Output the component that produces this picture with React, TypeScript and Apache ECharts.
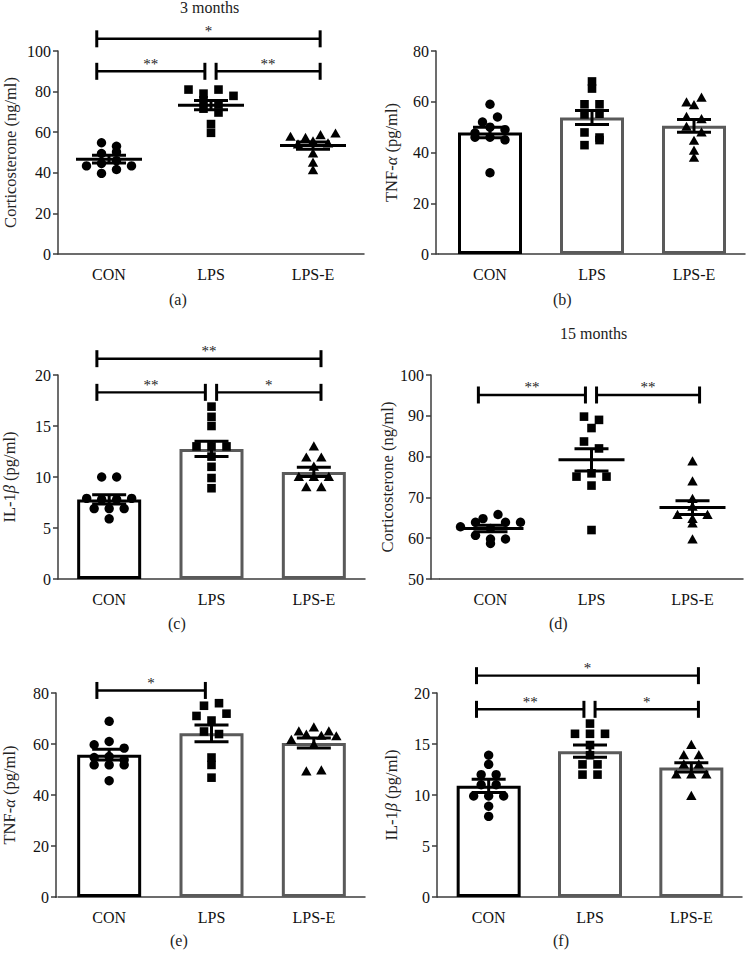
import React, { useEffect, useRef } from 'react';
import * as echarts from 'echarts';

const CATEGORIES = ['CON', 'LPS', 'LPS-E'];

// (a) 3 months, corticosterone (ng/ml)
const A_CON = [49.5, 43.4, 54.8, 50.3, 44.6, 39.7, 53.1, 46, 41.6, 43.4];
const A_LPS = [81, 75.7, 71.6, 79, 69.7, 64, 59.7, 81, 73.8, 77.9];
const A_LPSE = [57.7, 54, 57.2, 49.5, 45, 41.3, 55.5, 58.5, 59.3, 54.4];
const A_MEAN = [46.7, 73.3, 53.4];
const A_SEM = [1.9, 2.3, 1.8];
const A_BRACKETS: [number, number, number, string][] = [[0, 2, 106, '*'], [0, 1, 90, '**'], [1, 2, 90, '**']];

// (b) 3 months, TNF-alpha (pg/ml)
const B_CON = [47.7, 46, 50, 59, 32, 52, 46, 54, 49, 45];
const B_LPS = [68, 55, 47.9, 42.9, 59, 65.2, 55.3, 45.9, 59, 44.9];
const B_LPSE = [58.6, 54, 37.9, 59.7, 50.1, 44.6, 40.7, 61.6, 53.1, 47.9];
const B_MEAN = [47.9, 53.8, 50.5];
const B_SEM = [2.1, 2.8, 2.5];
const B_BRACKETS: [number, number, number, string][] = [];

// (c) 3 months, IL-1beta (pg/ml)
const C_CON = [7.9, 6.9, 10, 7.8, 6.9, 5.9, 10, 7.8, 6.9, 7.9];
const C_LPS = [13, 16.9, 15.9, 15, 13, 12, 11, 9.9, 8.9, 13];
const C_LPSE = [10, 11.9, 9, 13, 11, 10, 11.9, 9, 10];
const C_MEAN = [7.8, 12.75, 10.5];
const C_SEM = [0.45, 0.75, 0.45];
const C_BRACKETS: [number, number, number, string][] = [[0, 2, 21.6, '**'], [0, 1, 18.3, '**'], [1, 2, 18.3, '*']];

// (d) 15 months, corticosterone (ng/ml)
const D_CON = [64.8, 62.8, 63.9, 60.7, 58.7, 59.8, 62.4, 63.9, 59.8, 65.8, 63.9];
const D_LPS = [89.8, 75.1, 89, 87, 83.7, 82, 75.9, 72.9, 62, 75.1];
const D_LPSE = [65.7, 78.8, 73.9, 69.6, 59.7, 67.7, 64.7, 65.7, 63.6];
const D_MEAN = [62.4, 79.2, 67.5];
const D_SEM = [0.8, 2.75, 1.7];
const D_BRACKETS: [number, number, number, string][] = [[0, 1, 95.1, '**'], [1, 2, 95.1, '**']];

// (e) 15 months, TNF-alpha (pg/ml)
const E_CON = [59.7, 54.7, 51.8, 61, 68.9, 55.1, 51.8, 45.6, 58.4, 51.8, 53.8];
const E_LPS = [75, 71, 64.9, 69.2, 51.8, 46.8, 63.9, 76, 71.9, 54.7];
const E_LPSE = [64.9, 61.6, 63.6, 59.7, 49.2, 49.6, 63.2, 63, 66.5, 64.9];
const E_MEAN = [55.8, 64.2, 60.4];
const E_SEM = [2.1, 3.3, 2.0];
const E_BRACKETS: [number, number, number, string][] = [[0, 1, 81, '*']];

// (f) 15 months, IL-1beta (pg/ml)
const F_CON = [12, 11, 9.9, 13.9, 13, 9.9, 8.9, 7.9, 12, 11, 9.9];
const F_LPS = [16, 13, 12, 17, 16, 14.9, 13.9, 13, 12, 16];
const F_LPSE = [12, 13.9, 13, 14.9, 12, 9.9, 13.9, 13, 12];
const F_MEAN = [10.9, 14.3, 12.7];
const F_SEM = [0.65, 0.6, 0.45];
const F_BRACKETS: [number, number, number, string][] = [[0, 2, 21.7, '*'], [0, 1, 18.4, '**'], [1, 2, 18.4, '*']];

const Y_CORT = '{n|Corticosterone (ng/ml)}';
const Y_TNF = '{n|TNF-}{g|α}{n| (pg/ml)}';
const Y_IL = '{n|IL-1}{g|β}{n| (pg/ml)}';

const SERIF = '"Liberation Serif", "DejaVu Serif", serif';
const AX = '#3c3c3c';

type Panel = {
  groups: number[][];
  mean: number[];
  sem: number[];
  brackets: [number, number, number, string][];
  bars: boolean;
  yMin: number; yMax: number; yInt: number;
  yName: string;
  axisX: number; left: number; width: number; top: number; height: number; nameGap: number;
  label: string; labelX: number; labelY: number;
};

const PANELS: Panel[] = [
  { groups: [A_CON, A_LPS, A_LPSE], mean: A_MEAN, sem: A_SEM, brackets: A_BRACKETS, bars: false,
    yMin: 0, yMax: 100, yInt: 20, yName: Y_CORT,
    axisX: 58, left: 58, width: 306, top: 51, height: 203, nameGap: 39, label: '(a)', labelX: 178, labelY: 300 },
  { groups: [B_CON, B_LPS, B_LPSE], mean: B_MEAN, sem: B_SEM, brackets: B_BRACKETS, bars: true,
    yMin: 0, yMax: 80, yInt: 20, yName: Y_TNF,
    axisX: 436, left: 439, width: 306, top: 51, height: 203, nameGap: 36, label: '(b)', labelX: 562, labelY: 300 },
  { groups: [C_CON, C_LPS, C_LPSE], mean: C_MEAN, sem: C_SEM, brackets: C_BRACKETS, bars: true,
    yMin: 0, yMax: 20, yInt: 5, yName: Y_IL,
    axisX: 57, left: 57, width: 308, top: 375, height: 204, nameGap: 40, label: '(c)', labelX: 177, labelY: 624 },
  { groups: [D_CON, D_LPS, D_LPSE], mean: D_MEAN, sem: D_SEM, brackets: D_BRACKETS, bars: false,
    yMin: 50, yMax: 100, yInt: 10, yName: Y_CORT,
    axisX: 431, left: 440, width: 303, top: 375, height: 204, nameGap: 31, label: '(d)', labelX: 558, labelY: 624 },
  { groups: [E_CON, E_LPS, E_LPSE], mean: E_MEAN, sem: E_SEM, brackets: E_BRACKETS, bars: true,
    yMin: 0, yMax: 80, yInt: 20, yName: Y_TNF,
    axisX: 55, left: 57, width: 308, top: 693, height: 204, nameGap: 38, label: '(e)', labelX: 179, labelY: 941 },
  { groups: [F_CON, F_LPS, F_LPSE], mean: F_MEAN, sem: F_SEM, brackets: F_BRACKETS, bars: true,
    yMin: 0, yMax: 20, yInt: 5, yName: Y_IL,
    axisX: 437, left: 438, width: 304, top: 693, height: 204, nameGap: 37, label: '(f)', labelX: 562, labelY: 941 },
];

// GraphPad-like column scatter: points with nearly equal pixel height share a row and are spread sideways
function swarm(ys: number[], rowH: number, colW: number, maxW: number): number[] {
  const idx = ys.map((_, i) => i).sort((a, b) => ys[a] - ys[b]);
  const off = new Array(ys.length).fill(0);
  let i = 0;
  while (i < idx.length) {
    const row = [idx[i]];
    let j = i + 1;
    while (j < idx.length && ys[idx[j]] - ys[idx[i]] < rowH) { row.push(idx[j]); j++; }
    const n = row.length;
    const s = n > 1 ? Math.min(colW, maxW / (n - 1)) : 0;
    row.sort((a, b) => a - b).forEach((p, k) => { off[p] = (k - (n - 1) / 2) * s; });
    i = j;
  }
  return off;
}

function marker(shape: number, x: number, y: number) {
  const style = { fill: '#000', stroke: 'none' };
  if (shape === 0) return { type: 'circle', shape: { cx: x, cy: y, r: 4.7 }, style };
  if (shape === 1) return { type: 'rect', shape: { x: x - 4.3, y: y - 4.3, width: 8.6, height: 8.6 }, style };
  return { type: 'polygon', shape: { points: [[x, y - 5.2], [x + 5.2, y + 4], [x - 5.2, y + 4]] }, style };
}

function buildOption() {
  const grid: any[] = [];
  const xAxis: any[] = [];
  const yAxis: any[] = [];
  const series: any[] = [];
  const graphic: any[] = [];

  PANELS.forEach((p, i) => {
    grid.push({ left: p.left, top: p.top, width: p.width, height: p.height });
    xAxis.push({
      gridIndex: i, type: 'category', data: CATEGORIES, boundaryGap: true,
      axisLine: { onZero: false, lineStyle: { color: AX, width: 1.5 } },
      axisTick: { alignWithLabel: true, length: 5, interval: 0, lineStyle: { color: AX, width: 1.5 } },
      axisLabel: { interval: 0, margin: 12, fontSize: 16, fontFamily: SERIF, color: '#111' },
    });
    yAxis.push({
      gridIndex: i, type: 'value', min: p.yMin, max: p.yMax, interval: p.yInt,
      offset: p.left - p.axisX,
      splitLine: { show: false },
      axisLine: { show: true, lineStyle: { color: AX, width: 1.5 } },
      axisTick: { show: true, length: 5, lineStyle: { color: AX, width: 1.5 } },
      axisLabel: { margin: 7, fontSize: 16, fontFamily: SERIF, color: '#111' },
      name: p.yName, nameLocation: 'middle', nameGap: p.nameGap,
      nameTextStyle: {
        rich: {
          n: { fontSize: 16.5, fontFamily: SERIF, color: '#222' },
          g: { fontSize: 16.5, fontFamily: SERIF, fontStyle: 'italic', color: '#222' },
        },
      },
    });

    if (p.bars) {
      series.push({
        type: 'bar', xAxisIndex: i, yAxisIndex: i, barWidth: 64, z: 1, silent: true,
        data: p.mean.map((m, c) => ({
          value: m,
          itemStyle: { color: '#fff', borderColor: c === 0 ? '#000' : '#5a5a5a', borderWidth: 3 },
        })),
      });
    }

    const groups = p.groups;
    series.push({
      type: 'custom', xAxisIndex: i, yAxisIndex: i, z: 3, silent: true,
      encode: { x: 0, y: 1 },
      data: groups.flatMap((g, c) => g.map((v, k) => [c, v, k])),
      renderItem: (params: any, api: any) => {
        const c = api.value(0), v = api.value(1), k = api.value(2);
        const ys = groups[c].map((val) => api.coord([c, val])[1]);
        const offs = swarm(ys, 7, 15, 62);
        const pt = api.coord([c, v]);
        return marker(c, pt[0] + offs[k], pt[1]);
      },
    });

    const showMean = !p.bars;
    series.push({
      type: 'custom', xAxisIndex: i, yAxisIndex: i, z: 4, silent: true,
      encode: { x: 0, y: 1 },
      data: p.mean.map((m, c) => [c, m, p.sem[c]]),
      renderItem: (params: any, api: any) => {
        const c = api.value(0), m = api.value(1), s = api.value(2);
        const pm = api.coord([c, m]);
        const ph = api.coord([c, m + s]);
        const pl = api.coord([c, m - s]);
        const x = pm[0];
        const st = { stroke: '#000', lineWidth: 3 };
        const children: any[] = [
          { type: 'line', shape: { x1: x, y1: ph[1], x2: x, y2: pl[1] }, style: st },
          { type: 'line', shape: { x1: x - 17, y1: ph[1], x2: x + 17, y2: ph[1] }, style: st },
          { type: 'line', shape: { x1: x - 17, y1: pl[1], x2: x + 17, y2: pl[1] }, style: st },
        ];
        if (showMean) children.push({ type: 'line', shape: { x1: x - 33, y1: pm[1], x2: x + 33, y2: pm[1] }, style: st });
        return { type: 'group', children };
      },
    });

    if (p.brackets.length) {
      const br = p.brackets;
      series.push({
        type: 'custom', xAxisIndex: i, yAxisIndex: i, z: 5, silent: true, clip: false,
        encode: { x: 0, y: 2 },
        data: br.map((b) => [b[0], b[1], b[2]]),
        renderItem: (params: any, api: any) => {
          const f = api.value(0), t = api.value(1), yv = api.value(2);
          const pf = api.coord([f, yv]);
          const pt = api.coord([t, yv]);
          const bw = api.size([1, 0])[0];
          const x1 = pf[0] + (f === 0 ? -0.12 : 0.05) * bw;
          const x2 = pt[0] + (t === 2 ? 0.07 : -0.06) * bw;
          const y = pf[1];
          const st = { stroke: '#000', lineWidth: 2.4 };
          const cs = { stroke: '#000', lineWidth: 3 };
          return {
            type: 'group',
            children: [
              { type: 'line', shape: { x1, y1: y, x2, y2: y }, style: st },
              { type: 'line', shape: { x1, y1: y - 8.5, x2: x1, y2: y + 8.5 }, style: cs },
              { type: 'line', shape: { x1: x2, y1: y - 8.5, x2, y2: y + 8.5 }, style: cs },
              { type: 'text', x: (x1 + x2) / 2, y: y, style: { text: br[params.dataIndex][3], align: 'center', verticalAlign: 'bottom', font: '15px ' + SERIF, fill: '#222', stroke: 'none', lineWidth: 0 } },
            ],
          };
        },
      });
    }

    graphic.push({ type: 'text', left: p.labelX - 9, top: p.labelY - 9, style: { text: p.label, font: '16px ' + SERIF, fill: '#222' } });
    if (p.left > p.axisX) {
      graphic.push({ type: 'line', shape: { x1: p.axisX, y1: p.top + p.height, x2: p.left, y2: p.top + p.height }, style: { stroke: AX, lineWidth: 1.5 } });
    }
  });

  graphic.push({ type: 'text', left: 180, top: -1, style: { text: '3 months', font: '16px ' + SERIF, fill: '#222' } });
  graphic.push({ type: 'text', left: 560, top: 325, style: { text: '15 months', font: '16px ' + SERIF, fill: '#222' } });

  return { animation: false, backgroundColor: '#fff', grid, xAxis, yAxis, series, graphic };
}

export default function App() {
  const ref = useRef<HTMLDivElement>(null);
  useEffect(() => {
    document.body.style.margin = '0';
    if (!ref.current) return;
    const chart = echarts.init(ref.current, undefined, { renderer: 'svg' });
    chart.setOption(buildOption() as any);
    return () => chart.dispose();
  }, []);
  return <div ref={ref} style={{ width: 746, height: 956 }} />;
}
